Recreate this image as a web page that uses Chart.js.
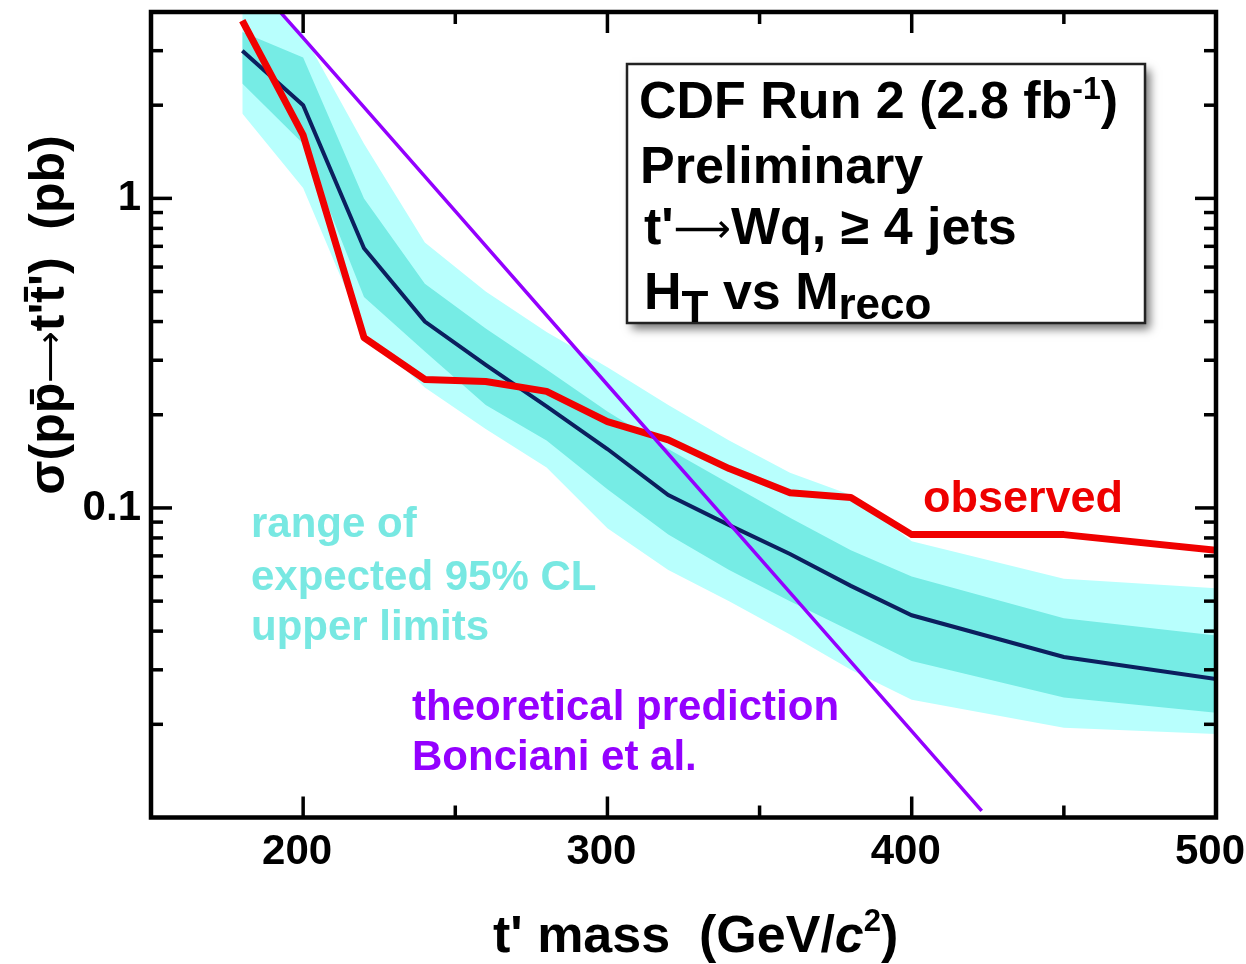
<!DOCTYPE html>
<html>
<head>
<meta charset="utf-8">
<title>t' mass limits</title>
<script src="https://cdn.jsdelivr.net/npm/chart.js@4.4.1/dist/chart.umd.min.js"></script>
<style>
  html, body { margin: 0; padding: 0; background: #fff; }
  #wrap { width: 1246px; height: 964px; position: relative; }
</style>
</head>
<body>
<div id="wrap"><canvas id="myChart"></canvas></div>
<script>
// t' masses where the limits were computed (GeV/c2)
const mass = [180, 200, 220, 240, 260, 280, 300, 320, 340, 360, 380, 400, 450, 500]
// 95% CL upper limits on sigma (pb)
const observed = [3.75, 1.6, 0.355, 0.26, 0.256, 0.238, 0.19, 0.166, 0.134, 0.112, 0.108, 0.082, 0.082, 0.073]
const expected = [3.0, 2.0, 0.69, 0.40, 0.29, 0.213, 0.155, 0.11, 0.088, 0.071, 0.056, 0.045, 0.033, 0.028]
// expected bands, 1 sigma and 2 sigma
const oneSigLo = [2.35, 1.5, 0.48, 0.32, 0.215, 0.165, 0.115, 0.082, 0.063, 0.05, 0.04, 0.032, 0.0244, 0.0218]
const oneSigHi = [3.45, 2.85, 1.0, 0.53, 0.38, 0.28, 0.205, 0.155, 0.12, 0.093, 0.073, 0.06, 0.044, 0.0387]
const twoSigLo = [1.88, 1.08, 0.37, 0.245, 0.18, 0.135, 0.086, 0.063, 0.05, 0.039, 0.03, 0.024, 0.0195, 0.0186]
const twoSigHi = [5.2, 3.4, 1.5, 0.72, 0.5, 0.37, 0.285, 0.215, 0.165, 0.13, 0.11, 0.078, 0.059, 0.055]
// theoretical prediction (Bonciani et al.)
const theoryMass = [180, 200, 250, 300, 350, 400, 423]
const theory = [5.5, 3.3, 0.91, 0.25, 0.069, 0.019, 0.0105]

// axis ticks
const xMajor = [200, 300, 400, 500]
const xMinor = [250, 350, 450]
const yMajor = [0.1, 1]
const yMinor = [0.02, 0.03, 0.04, 0.05, 0.06, 0.07, 0.08, 0.09,
                0.2, 0.3, 0.4, 0.5, 0.6, 0.7, 0.8, 0.9, 2, 3, 4]

const FONT = '"Liberation Sans", Arial, Helvetica, "DejaVu Sans", sans-serif'

function pts(xs, ys) {
    return xs.map((m, i) => ({x: m, y: ys[i]}))
}

// pieces of text drawn one after the other : [text, size, dy, italic, weight]
function textRuns(ctx, x, y, parts) {
    parts.forEach(p => {
        ctx.font = (p[3] ? 'italic ' : '') + (p[4] || 'bold') + ' ' + p[1] + 'px ' + FONT
        ctx.fillText(p[0], x, y + (p[2] || 0))
        x += ctx.measureText(p[0]).width
    })
    return x
}
function runsWidth(ctx, parts) {
    let w = 0
    parts.forEach(p => {
        ctx.font = (p[3] ? 'italic ' : '') + (p[4] || 'bold') + ' ' + p[1] + 'px ' + FONT
        w += ctx.measureText(p[0]).width
    })
    return w
}

//********** frame, inward ticks, titles and labels ***********//
const framePlugin = {
    id: 'frame',
    afterDraw(chart) {
        const ctx = chart.ctx
        const a = chart.chartArea
        const xs = chart.scales.x
        const ys = chart.scales.y
        ctx.save()
        ctx.strokeStyle = '#000'
        ctx.lineCap = 'butt'
        const seg = (x1, y1, x2, y2) => {
            ctx.beginPath(); ctx.moveTo(x1, y1); ctx.lineTo(x2, y2); ctx.stroke()
        }
        ctx.lineWidth = 3.5
        xMajor.forEach(v => {
            const p = xs.getPixelForValue(v)
            seg(p, a.bottom, p, a.bottom - 21)
            seg(p, a.top, p, a.top + 21)
        })
        xMinor.forEach(v => {
            const p = xs.getPixelForValue(v)
            seg(p, a.bottom, p, a.bottom - 12)
            seg(p, a.top, p, a.top + 12)
        })
        yMajor.forEach(v => {
            const p = ys.getPixelForValue(v)
            seg(a.left, p, a.left + 21, p)
            seg(a.right, p, a.right - 21, p)
        })
        yMinor.forEach(v => {
            const p = ys.getPixelForValue(v)
            seg(a.left, p, a.left + 12, p)
            seg(a.right, p, a.right - 12, p)
        })
        ctx.lineWidth = 4.5
        ctx.strokeRect(a.left, a.top, a.right - a.left, a.bottom - a.top)

        // info box with shadow
        ctx.save()
        ctx.shadowColor = 'rgba(0,0,0,0.55)'
        ctx.shadowBlur = 9
        ctx.shadowOffsetX = 5
        ctx.shadowOffsetY = 6
        ctx.fillStyle = '#fff'
        ctx.fillRect(627, 64, 518, 259)
        ctx.restore()
        ctx.strokeStyle = '#222'
        ctx.lineWidth = 2.5
        ctx.strokeRect(627, 64, 518, 259)

        ctx.fillStyle = '#000'
        ctx.textAlign = 'left'
        ctx.textBaseline = 'alphabetic'
        textRuns(ctx, 639, 118, [['CDF Run 2 (2.8 fb', 52], ['-1', 32, -19], [')', 52]])
        textRuns(ctx, 640, 183, [['Preliminary', 52]])
        textRuns(ctx, 644, 244, [["t'", 52], ['\u27f6', 40, -2, false, 'normal'], ['Wq, \u2265 4 jets', 52]])
        textRuns(ctx, 644, 309, [['H', 52], ['T', 44, 13], [' vs M', 52], ['reco', 44, 10]])

        // labels in the plot
        ctx.fillStyle = '#ee0000'
        textRuns(ctx, 923, 512, [['observed', 45]])
        ctx.fillStyle = '#78e8e2'
        textRuns(ctx, 251, 537, [['range of', 42]])
        textRuns(ctx, 251, 590, [['expected 95% CL', 42]])
        textRuns(ctx, 251, 640, [['upper limits', 42]])
        ctx.fillStyle = '#9400ff'
        textRuns(ctx, 412, 720, [['theoretical prediction', 42]])
        textRuns(ctx, 412, 770, [['Bonciani et al.', 42]])

        // axis titles
        ctx.fillStyle = '#000'
        textRuns(ctx, 493, 952, [["t' mass  (GeV/", 52], ['c', 52, 0, true], ['2', 31, -21], [')', 52]])
        const yt = [['\u03c3(pp\u0304', 50], ['\u27f6', 36, -2, false, 'normal'], ['t\'t\u0304\')  (pb)', 50]]
        ctx.translate(64, 315)
        ctx.rotate(-Math.PI / 2)
        textRuns(ctx, -runsWidth(ctx, yt) / 2, 0, yt)
        ctx.restore()
    }
}

let ctx = document.getElementById('myChart')
let myChart = new Chart(ctx, {
    type: 'line',
    data: {
        datasets: [
            {label: 'theory', data: pts(theoryMass, theory), borderColor: '#9400ff', borderWidth: 3.5, fill: false},
            {label: 'observed', data: pts(mass, observed), borderColor: '#f00000', borderWidth: 7, borderJoinStyle: 'round', fill: false},
            {label: 'expected', data: pts(mass, expected), borderColor: '#0b1f5e', borderWidth: 4, fill: false},
            {label: '+1 sigma', data: pts(mass, oneSigHi), borderWidth: 0, borderColor: 'transparent', backgroundColor: '#76ece5', fill: '+1'},
            {label: '-1 sigma', data: pts(mass, oneSigLo), borderWidth: 0, borderColor: 'transparent', fill: false},
            {label: '+2 sigma', data: pts(mass, twoSigHi), borderWidth: 0, borderColor: 'transparent', backgroundColor: '#b8fffd', fill: '+1'},
            {label: '-2 sigma', data: pts(mass, twoSigLo), borderWidth: 0, borderColor: 'transparent', fill: false}
        ]
    },
    options: {
        responsive: true,
        maintainAspectRatio: false,
        animation: false,
        elements: {point: {radius: 0}, line: {tension: 0}},
        layout: {padding: {top: 12, right: 30, left: 0, bottom: 0}},
        plugins: {legend: {display: false}, tooltip: {enabled: false}},
        scales: {
            x: {
                type: 'linear', min: 150, max: 500,
                grid: {display: false, drawTicks: false},
                border: {display: false},
                afterBuildTicks: s => { s.ticks = xMajor.map(v => ({value: v})) },
                afterFit: s => { s.height = 146.5; s.paddingLeft = 0; s.paddingRight = 0 },
                ticks: {
                    font: {family: FONT, size: 42, weight: 'bold'}, color: '#000',
                    padding: 10, labelOffset: -6, maxRotation: 0, autoSkip: false,
                    callback: v => String(v)
                }
            },
            y: {
                type: 'logarithmic', min: 0.01, max: 4,
                grid: {display: false, drawTicks: false},
                border: {display: false},
                afterBuildTicks: s => { s.ticks = yMajor.map(v => ({value: v})) },
                afterFit: s => { s.width = 151; s.paddingTop = 0; s.paddingBottom = 0 },
                ticks: {
                    font: {family: FONT, size: 42, weight: 'bold'}, color: '#000',
                    padding: 10, autoSkip: false,
                    callback: v => String(v)
                }
            }
        }
    },
    plugins: [framePlugin]
})
</script>
</body>
</html>
